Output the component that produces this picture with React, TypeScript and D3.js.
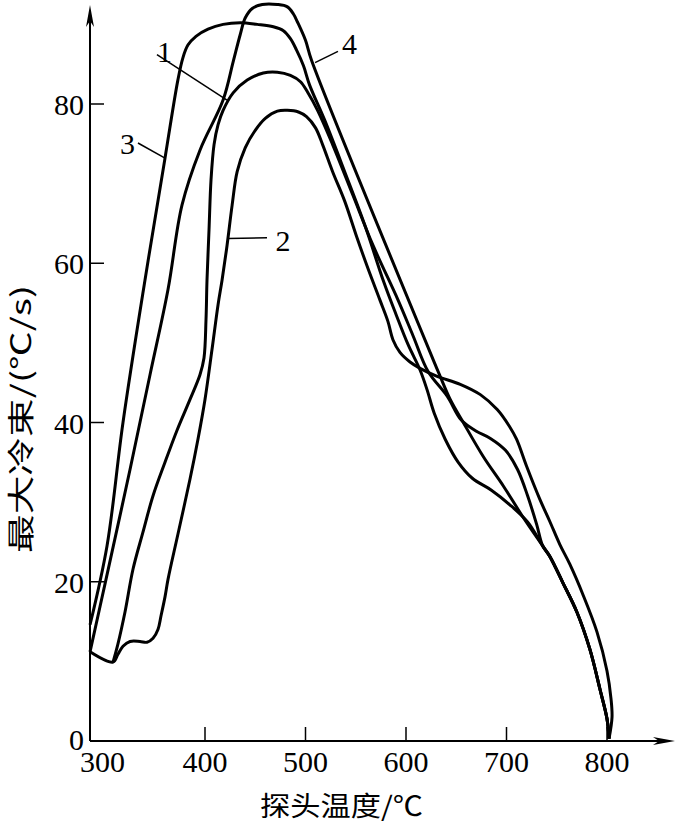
import React, { useEffect, useRef } from 'react';
import * as d3 from 'd3';

// axis ticks
const xTicks = [400, 500, 600, 700, 800];
const xLabels = [300, 400, 500, 600, 700, 800];
const yTicks = [20, 40, 60, 80];
const yLabels = [0, 20, 40, 60, 80];

// curves 1, 3 and 4 run together from about 736 C down to 800 C
const tail = [[743, 23.2], [756, 19.9], [770, 16.2], [783, 11.5], [793, 6.5], [800, 2.8], [802, 0.3]];

const curve1 = [
  [308.5, 9.9], [313.4, 12.2], [320.4, 16.2], [328.4, 21.6], [338.2, 26.2], [348.3, 30.8],
  [360.2, 35.0], [372.1, 39.0], [385.1, 42.9], [395, 46.0], [399, 48.1], [401, 52.9],
  [402, 57.9], [404, 64.2], [406, 70.5], [409, 74.9], [413, 77.4], [418, 79.2], [428, 81.4],
  [442, 83.0], [458, 83.9], [472, 84.0], [485, 83.6], [495, 82.8], [502, 81.5], [512, 79.2],
  [527, 74.9], [547, 68.6], [567, 62.3], [592, 55.4], [607, 50.9], [622, 46.4], [641, 43.3],
  [655, 40.3], [670, 38.9], [684, 38.0], [699, 36.5], [711, 34.1], [721, 30.8], [730, 27.2],
  [736, 24.5], ...tail,
];

const curve2 = [
  [285.6, 11.2], [308.5, 9.9], [313.4, 10.9], [318.4, 11.9], [325.4, 12.5], [335.3, 12.5],
  [342.3, 12.4], [348.3, 12.9], [353.2, 14.0], [356.2, 15.7], [360.2, 18.1], [363.2, 20.3],
  [373.1, 26.0], [385.1, 32.9], [393, 37.9], [400, 42.9], [407, 49.2], [413, 54.8], [417, 57.9],
  [422, 62.3], [427, 67.3], [432, 71.5], [440, 74.5], [450, 76.7], [460, 78.2], [472, 79.1],
  [482, 79.2], [493, 79.0], [501, 78.4], [510, 77.0], [517, 74.9], [527, 71.5], [539, 67.8],
  [551, 63.3], [562, 59.4], [574, 55.4], [582, 52.7], [587, 50.4], [594, 48.8], [604, 47.6],
  [614, 46.8], [631, 45.8], [654, 44.8], [674, 43.5], [691, 41.6], [703, 39.5], [710, 37.9],
  [720, 34.5], [733, 30.4], [743, 27.6], [753, 24.7], [763, 22.2], [776, 18.4], [790, 13.7],
  [800, 8.8], [804, 5.3], [805, 3.0], [802, 0.3],
];

const curve3 = [
  [285.6, 14.6], [302.5, 24.5], [318.4, 40.0], [340.3, 57.9], [360.2, 73.2], [373, 83.0],
  [378, 85.8], [383, 87.4], [391, 88.5], [403, 89.4], [418, 90.0], [435, 90.2], [452, 90.0],
  [468, 89.7], [478, 89.2], [485, 88.2], [491, 86.8], [498, 84.8], [504, 82.4], [519, 78.0],
  [539, 71.5], [559, 64.8], [578, 57.6], [590, 53.6], [602, 49.8], [614, 46.6], [621, 44.1],
  [628, 41.2], [639, 37.9], [652, 35.0], [666, 33.0], [685, 31.5], [703, 29.7], [721, 27.5],
  [736, 24.5], ...tail,
];

const curve4 = [
  [285.6, 11.2], [301.5, 20.3], [325.4, 34.1], [345.3, 46.0], [363.2, 56.7], [377.1, 67.3],
  [395, 74.2], [418, 80.5], [428, 85.3], [435, 88.7], [440, 90.8], [447, 92.0], [457, 92.5],
  [472, 92.5], [482, 92.2], [488, 91.3], [492, 90.3], [500, 88.0], [506, 85.5], [627, 47.9],
  [634, 45.8], [644, 42.9], [657, 40.0], [677, 35.7], [697, 32.0], [716, 28.2], [736, 24.5],
  ...tail,
];

const curves = [curve1, curve2, curve3, curve4];

// curve numbers: text position and leader line (from, to), in data units
const labels = [
  { text: '1', at: [359.8, 86.6], from: [352.2, 86.2], to: [421.9, 80.5] },
  { text: '2', at: [477.6, 62.9], from: [461.7, 63.2], to: [422.9, 63.1] },
  { text: '3', at: [322.9, 75.1], from: [333.3, 75.1], to: [360.2, 73.2] },
  { text: '4', at: [543.8, 87.7], from: [532.3, 86.6], to: [509.5, 85.2] },
];

export default function App() {
  const ref = useRef<SVGSVGElement>(null);

  useEffect(() => {
    const width = 675, height = 823;
    const left = 90, top = 5;
    const svg = d3.select(ref.current);
    svg.selectAll('*').remove();

    const x = d3.scaleLinear().domain([400, 800]).range([205, 607]);
    const y = d3.scaleLinear().domain([0, 80]).range([741, 104]);
    const base = y(0);
    const num = 'Liberation Serif, Times New Roman, serif';
    const cjk = 'Noto Sans CJK SC, sans-serif';

    // axes
    svg.append('line').attr('x1', left).attr('x2', width - 12).attr('y1', base).attr('y2', base)
      .attr('stroke', '#000').attr('stroke-width', 2);
    svg.append('line').attr('x1', left).attr('x2', left).attr('y1', base).attr('y2', top + 12)
      .attr('stroke', '#000').attr('stroke-width', 2);
    svg.append('path')
      .attr('d', `M${left},${top} L${left - 4},${top + 22} L${left},${top + 16} L${left + 4},${top + 22} Z`)
      .attr('fill', '#000');
    svg.append('path')
      .attr('d', `M${width},${base} L${width - 22},${base - 4} L${width - 16},${base} L${width - 22},${base + 4} Z`)
      .attr('fill', '#000');

    svg.append('g').selectAll('line').data(xTicks).enter().append('line')
      .attr('x1', d => x(d)).attr('x2', d => x(d)).attr('y1', base).attr('y2', base - 14)
      .attr('stroke', '#000').attr('stroke-width', 1.5);
    svg.append('g').selectAll('text').data(xLabels).enter().append('text')
      .attr('x', d => x(d) - (d === 300 ? 2 : 0)).attr('y', base + 31)
      .attr('text-anchor', 'middle').style('font-family', num).style('font-size', '30px')
      .text(d => d);

    svg.append('g').selectAll('line').data(yTicks).enter().append('line')
      .attr('x1', left).attr('x2', left + 14).attr('y1', d => y(d)).attr('y2', d => y(d))
      .attr('stroke', '#000').attr('stroke-width', 1.5);
    svg.append('g').selectAll('text').data(yLabels).enter().append('text')
      .attr('x', left - 6).attr('y', d => y(d) + (d === 0 ? 9 : 11))
      .attr('text-anchor', 'end').style('font-family', num).style('font-size', '30px')
      .text(d => d);

    // axis titles
    svg.append('text').attr('x', 260).attr('y', 816)
      .attr('textLength', 163).attr('lengthAdjust', 'spacingAndGlyphs')
      .style('font-family', cjk).style('font-size', '27px').text('探头温度/℃');
    svg.append('text')
      .attr('transform', 'translate(19,419) rotate(-90)')
      .attr('text-anchor', 'middle').attr('dominant-baseline', 'central')
      .attr('textLength', 268).attr('lengthAdjust', 'spacingAndGlyphs')
      .style('font-family', cjk).style('font-size', '27px').text('最大冷束/(℃/s)');

    // curves
    const line = d3.line<number[]>()
      .x(d => x(d[0])).y(d => y(d[1]))
      .curve(d3.curveCatmullRom.alpha(0.5));
    svg.append('g').selectAll('path').data(curves).enter().append('path')
      .attr('d', d => line(d))
      .attr('fill', 'none').attr('stroke', '#000').attr('stroke-width', 3)
      .attr('stroke-linejoin', 'round');

    // numbered leaders
    const g = svg.append('g');
    g.selectAll('line').data(labels).enter().append('line')
      .attr('x1', d => x(d.from[0])).attr('y1', d => y(d.from[1]))
      .attr('x2', d => x(d.to[0])).attr('y2', d => y(d.to[1]))
      .attr('stroke', '#000').attr('stroke-width', 1.5);
    g.selectAll('text').data(labels).enter().append('text')
      .attr('x', d => x(d.at[0])).attr('y', d => y(d.at[1]) + 11)
      .attr('text-anchor', 'middle').style('font-family', num).style('font-size', '30px')
      .text(d => d.text);

    svg.attr('width', width).attr('height', height);
  }, []);

  return (
    <svg ref={ref} width={675} height={823}
      style={{ position: 'absolute', left: 0, top: 0, background: '#fff' }} />
  );
}
